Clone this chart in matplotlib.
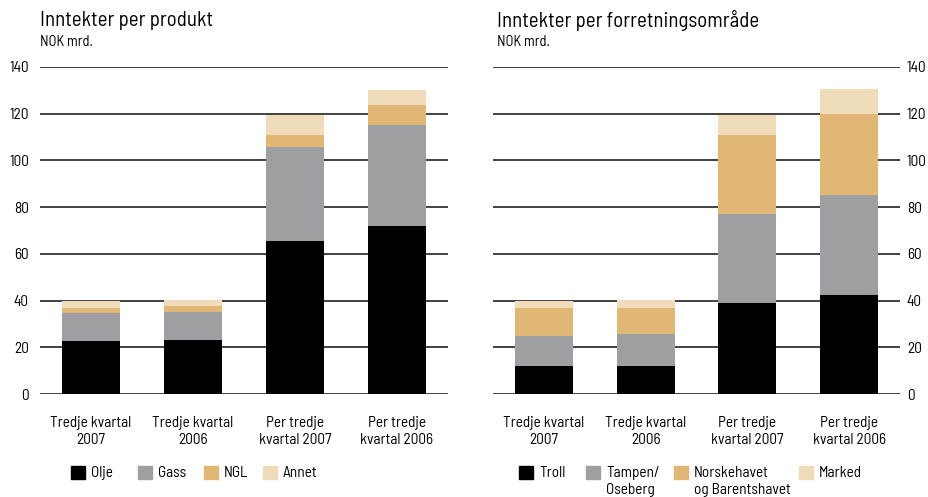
import matplotlib
matplotlib.use("Agg")
import matplotlib.pyplot as plt
from matplotlib.patches import Rectangle
import numpy as np

plt.rcParams['font.family'] = ['Barlow Semi Condensed', 'DejaVu Sans']

categories = ["Tredje kvartal\n2007", "Tredje kvartal\n2006", "Per tredje\nkvartal 2007", "Per tredje\nkvartal 2006"]

# Left chart: revenue per product (NOK bn)
prod_labels = ["Olje", "Gass", "NGL", "Annet"]
olje = [22.7, 23.2, 65.7, 72.1]
gass = [12.1, 12.1, 39.9, 42.9]
ngl = [2.1, 2.5, 5.1, 8.6]
annet = [3.0, 2.5, 8.6, 6.4]

# Right chart: revenue per business area (NOK bn)
area_labels = ["Troll", "Tampen/\nOseberg", "Norskehavet\nog Barentshavet", "Marked"]
troll = [12.0, 12.0, 39.1, 42.5]
tampen = [12.9, 13.8, 37.9, 42.5]
norske = [12.0, 11.1, 33.7, 34.8]
marked = [3.0, 3.4, 8.6, 10.7]

colors = ["#000000", "#9d9fa2", "#e0b774", "#f0dbba"]
yticks = [0, 20, 40, 60, 80, 100, 120, 140]

fig = plt.figure(figsize=(9.29, 4.97), dpi=100)
ax1 = fig.add_axes([40/929, 1-394/497, 408/929, 327/497])
ax2 = fig.add_axes([493/929, 1-394/497, 407/929, 327/497])

def draw(ax, series, side):
    x = np.arange(len(categories))
    for t in yticks:
        ax.axhline(t, color="#333333", lw=1.3, zorder=0)
    bottom = np.zeros(len(categories))
    for vals, c in zip(series, colors):
        ax.bar(x, vals, bottom=bottom, width=0.57, color=c, zorder=2, linewidth=0)
        bottom += np.array(vals)
    ax.set_xlim(-0.5, 3.5)
    ax.set_ylim(0, 140)
    ax.set_yticks(yticks)
    ax.set_yticklabels([str(t) for t in yticks], fontsize=11)
    ax.set_xticks(x)
    ax.set_xticklabels(categories, fontsize=11, linespacing=1.3)
    ax.tick_params(axis='x', length=0, pad=15.5)
    ax.tick_params(axis='y', length=0, pad=8)
    if side == "right":
        ax.yaxis.tick_right()
        ax.tick_params(axis='y', length=0, pad=5)
    for s in ax.spines.values():
        s.set_visible(False)

draw(ax1, [olje, gass, ngl, annet], "left")
draw(ax2, [troll, tampen, norske, marked], "right")

fig.text(40/929, 1-20/497, "Inntekter per produkt", fontsize=15, va="center", ha="left")
fig.text(40/929, 1-42/497, "NOK mrd.", fontsize=10.5, va="center", ha="left")
fig.text(497/929, 1-20/497, "Inntekter per forretningsområde", fontsize=15, va="center", ha="left")
fig.text(497/929, 1-42/497, "NOK mrd.", fontsize=10.5, va="center", ha="left")

def legend(xs, labels):
    for xp, lab, c in zip(xs, labels, colors):
        fig.patches.append(Rectangle((xp/929, 1-479/497), 14/929, 13/497,
                                     transform=fig.transFigure, color=c, figure=fig))
        fig.text((xp+20)/929, 1-466/497, lab, fontsize=11, va="top", ha="left", linespacing=1.3)

legend([71, 138, 204, 263], prod_labels)
legend([519, 586, 674, 799], area_labels)

fig.savefig("out.png", dpi=100)
